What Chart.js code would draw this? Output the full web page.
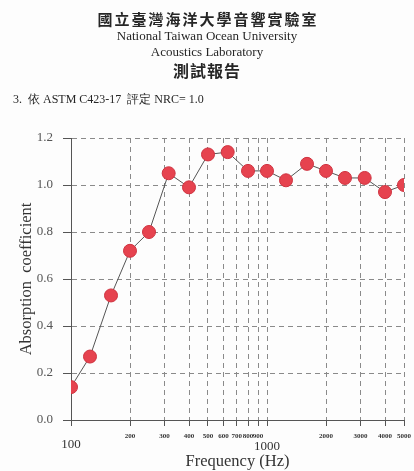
<!DOCTYPE html>
<html>
<head>
<meta charset="utf-8">
<script src="https://cdn.jsdelivr.net/npm/chart.js@4/dist/chart.umd.min.js"></script>
<style>
  html, body { margin: 0; padding: 0; background: #fdfdfd; }
  #wrap { position: relative; width: 414px; height: 471px; overflow: hidden; }
  #wrap canvas { position: absolute; left: 0; top: 0; }
  .hd { position: absolute; left: 0; width: 414px; text-align: center; color: #262626; white-space: nowrap; }
  .cjk { font-family: "Noto Sans CJK TC", "Noto Sans CJK SC", serif; font-weight: bold; }
  .ser { font-family: "Liberation Serif", "DejaVu Serif", serif; }
</style>
</head>
<body>
<div id="wrap">
  <canvas id="c" width="414" height="471"></canvas>
  <div class="hd cjk" style="top:9px;font-size:15px;line-height:20px;letter-spacing:2px;text-indent:2px;">國立臺灣海洋大學音響實驗室</div>
  <div class="hd ser" style="top:28px;font-size:13px;line-height:16px;">National Taiwan Ocean University</div>
  <div class="hd ser" style="top:44px;font-size:13px;line-height:16px;">Acoustics Laboratory</div>
  <div class="hd cjk" style="top:60px;font-size:16px;line-height:20px;letter-spacing:1px;">測試報告</div>
  <div class="hd ser" style="top:92px;left:13px;width:auto;text-align:left;font-size:12px;line-height:14px;white-space:pre;">3.  依 ASTM C423-17  評定 NRC= 1.0</div>
</div>
<script>
// ---- data ----
const frequencies = [100, 125, 160, 200, 250, 315, 400, 500, 630, 800, 1000, 1250, 1600, 2000, 2500, 3150, 4000, 5000];
const absorption = [0.14, 0.27, 0.53, 0.72, 0.80, 1.05, 0.99, 1.13, 1.14, 1.06, 1.06, 1.02, 1.09, 1.06, 1.03, 1.03, 0.97, 1.00];
const xTickValues = [100, 200, 300, 400, 500, 600, 700, 800, 900, 1000, 2000, 3000, 4000, 5000];
const yTickValues = [0.0, 0.2, 0.4, 0.6, 0.8, 1.0, 1.2];
const xTitle = 'Frequency (Hz)';
const yTitle = 'Absorption  coefficient';

const points = frequencies.map((f, i) => ({ x: f, y: absorption[i] }));

new Chart(document.getElementById('c'), {
  type: 'line',
  data: {
    datasets: [{
      data: points,
      borderColor: '#555555',
      borderWidth: 1,
      tension: 0,
      pointRadius: 6.5,
      pointHoverRadius: 6.5,
      pointBackgroundColor: '#e6434f',
      pointBorderColor: '#cf3340',
      pointBorderWidth: 1
    }]
  },
  options: {
    responsive: false,
    animation: false,
    events: [],
    layout: { padding: { left: 0, right: 10, top: 138, bottom: 0 } },
    plugins: { legend: { display: false }, tooltip: { enabled: false }, title: { display: false } },
    scales: {
      x: {
        type: 'logarithmic',
        min: 100,
        max: 5000,
        afterBuildTicks: (s) => { s.ticks = xTickValues.map(v => ({ value: v })); },
        afterFit: (s) => { s.height = 51; },
        border: { display: true, color: '#555555', width: 1, dash: [5, 4] },
        grid: {
          color: '#8a8a8a', lineWidth: 1, drawTicks: true, tickLength: 6,
          tickColor: '#555555', tickBorderDash: []
        },
        ticks: {
          autoSkip: false, maxRotation: 0, minRotation: 0, padding: 2,
          color: '#333333',
          callback: (v) => String(v),
          font: (ctx) => {
            const v = ctx.tick ? ctx.tick.value : 0;
            if (v === 100) return { family: 'Liberation Serif', size: 13, lineHeight: 33 / 13 };
            if (v === 1000) return { family: 'Liberation Serif', size: 13, lineHeight: 37 / 13 };
            return { family: 'Liberation Serif', size: 7, weight: 'bold', lineHeight: 16 / 7 };
          }
        },
        title: {
          display: true, text: xTitle, color: '#333333',
          font: { family: 'Liberation Serif', size: 16.5, lineHeight: 1.1 },
          padding: { top: 0, bottom: 0 }
        }
      },
      y: {
        type: 'linear',
        min: 0,
        max: 1.2,
        afterBuildTicks: (s) => { s.ticks = yTickValues.map(v => ({ value: v })); },
        afterFit: (s) => { s.width = 71; },
        border: { display: true, color: '#555555', width: 1, dash: [5, 4] },
        grid: {
          color: '#8a8a8a', lineWidth: 1, drawTicks: true, tickLength: 8,
          tickColor: '#555555', tickBorderDash: []
        },
        ticks: {
          padding: 10, color: '#555555',
          font: { family: 'Liberation Serif', size: 13 },
          callback: (v) => Number(v).toFixed(1)
        },
        title: {
          display: true, text: yTitle, color: '#333333',
          font: { family: 'Liberation Serif', size: 16.5, lineHeight: 1.0 },
          padding: { top: 18, bottom: 0 }
        }
      }
    }
  }
});
</script>
</body>
</html>
